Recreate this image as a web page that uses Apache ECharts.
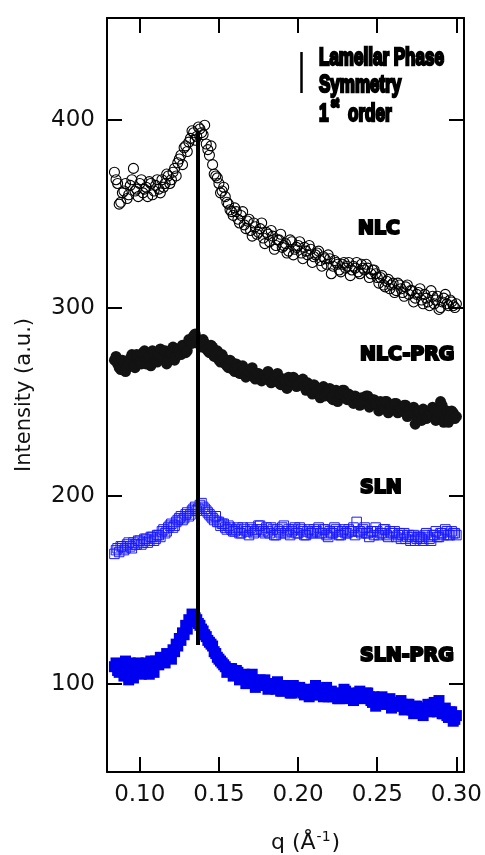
<!DOCTYPE html>
<html>
<head>
<meta charset="utf-8">
<script src="https://cdn.jsdelivr.net/npm/echarts@6/dist/echarts.min.js"></script>
<style>
html,body{margin:0;padding:0;background:#fff;}
#chart{width:485px;height:855px;}
</style>
</head>
<body>
<div id="chart"></div>
<script>
// q values (Å^-1), two interleaved sampling grids
var qA = [0.084,0.086,0.088,0.090,0.092,0.094,0.096,0.098,0.100,0.102,0.104,0.106,0.108,0.110,0.112,0.114,0.116,0.118,0.120,0.122,0.124,0.126,0.128,0.130,0.132,0.134,0.136,0.138,0.140,0.142,0.144,0.146,0.148,0.150,0.152,0.154,0.156,0.158,0.160,0.162,0.164,0.166,0.168,0.170,0.172,0.174,0.176,0.178,0.180,0.182,0.184,0.186,0.188,0.190,0.192,0.194,0.196,0.198,0.200,0.202,0.204,0.206,0.208,0.210,0.212,0.214,0.216,0.218,0.220,0.222,0.224,0.226,0.228,0.230,0.232,0.234,0.236,0.238,0.240,0.242,0.244,0.246,0.248,0.250,0.252,0.254,0.256,0.258,0.260,0.262,0.264,0.266,0.268,0.270,0.272,0.274,0.276,0.278,0.280,0.282,0.284,0.286,0.288,0.290,0.292,0.294,0.296,0.298,0.300];
var qB = [0.085,0.087,0.089,0.091,0.093,0.095,0.097,0.099,0.101,0.103,0.105,0.107,0.109,0.111,0.113,0.115,0.117,0.119,0.121,0.123,0.125,0.127,0.129,0.131,0.133,0.135,0.137,0.139,0.141,0.143,0.145,0.147,0.149,0.151,0.153,0.155,0.157,0.159,0.161,0.163,0.165,0.167,0.169,0.171,0.173,0.175,0.177,0.179,0.181,0.183,0.185,0.187,0.189,0.191,0.193,0.195,0.197,0.199,0.201,0.203,0.205,0.207,0.209,0.211,0.213,0.215,0.217,0.219,0.221,0.223,0.225,0.227,0.229,0.231,0.233,0.235,0.237,0.239,0.241,0.243,0.245,0.247,0.249,0.251,0.253,0.255,0.257,0.259,0.261,0.263,0.265,0.267,0.269,0.271,0.273,0.275,0.277,0.279,0.281,0.283,0.285,0.287,0.289,0.291,0.293,0.295,0.297,0.299];

// NLC (open circles)
var nlcA = [372,366,356,362,358,365,374,363,366,361,364,367,360,365,363,368,366,370,368,374,377,381,385,383,390,393,391,395,392,387,381,376,370,366,362,359,355,351,353,347,349,344,346,341,345,339,342,337,340,335,338,333,336,332,334,330,335,331,333,329,332,328,331,327,329,325,327,323,326,322,324,320,323,321,324,320,321,319,323,320,321,318,320,316,316,312,314,310,313,309,312,308,311,307,309,305,308,304,307,303,309,302,306,300,305,302,304,301,302];
var nlcB = [368,355,361,366,360,368,362,359,368,363,359,366,362,368,361,364,371,366,372,370,379,376,386,388,394,389,396,393,397,384,386,371,369,361,364,356,352,349,351,345,351,342,347,338,343,340,345,334,339,341,331,336,339,333,329,336,328,332,335,326,330,333,324,328,330,322,326,328,318,325,323,319,324,322,317,322,324,318,321,323,316,320,318,313,317,311,315,312,308,313,310,306,312,309,303,307,310,302,305,301,306,304,299,303,307,301,303,300];

// NLC-PRG (filled circles)
var nlcPrgA = [272,270,267,271,268,273,269,275,271,276,270,274,277,272,275,273,277,274,276,272,278,275,279,277,281,285,282,280,283,278,276,279,274,272,275,270,268,271,266,268,265,267,264,266,263,265,262,264,262,263,261,263,260,262,261,263,260,262,259,261,258,260,257,259,256,252,258,255,257,251,256,254,256,252,254,251,253,250,252,251,253,249,251,248,250,247,250,248,246,249,247,245,248,246,244,238,245,240,245,242,244,246,241,250,239,245,242,244,242];
var nlcPrgB = [274,268,272,266,270,275,268,273,270,277,273,269,275,271,278,274,270,276,279,274,277,280,276,283,281,286,283,279,281,277,280,274,277,271,273,269,272,267,270,265,269,263,266,268,262,265,261,264,266,260,263,265,259,262,257,261,263,258,260,262,256,259,254,258,255,257,253,256,252,255,250,254,256,251,253,249,252,248,250,253,247,251,249,245,248,250,244,247,249,244,246,248,242,245,247,241,244,246,241,243,247,240,244,248,242,239,245,241];

// SLN (open squares)
var slnA = [169,172,173,171,174,173,175,174,176,175,177,176,178,177,179,181,180,183,185,184,187,189,188,191,190,193,192,195,194,192,190,188,189,186,185,183,184,182,181,183,180,182,181,183,180,182,184,181,183,180,182,179,181,183,180,182,181,183,180,182,179,181,180,182,181,180,182,179,181,180,182,179,181,180,182,181,179,181,180,183,180,181,179,181,180,182,179,181,180,178,180,179,177,179,178,176,178,177,179,178,176,179,178,180,179,181,179,180,179];
var slnB = [171,170,173,172,175,172,174,176,174,177,175,178,176,179,178,182,181,184,183,186,188,187,190,189,192,194,193,196,193,191,189,187,186,184,185,182,183,181,182,180,183,181,179,182,181,184,182,180,181,183,179,182,180,184,181,179,182,180,183,181,179,182,180,181,183,180,182,178,180,183,181,179,182,180,181,183,186,181,182,180,178,181,183,179,180,182,178,180,181,179,177,180,178,176,179,177,178,176,180,177,179,181,178,180,182,179,181,180];

// SLN-PRG (filled squares)
var slnPrgA = [109,107,110,104,108,111,103,109,110,108,111,105,109,112,110,113,111,115,113,117,120,123,126,129,133,136,134,131,128,125,122,120,116,113,111,109,107,108,105,106,103,105,101,104,102,100,102,99,100,98,100,97,99,96,98,97,95,98,96,97,94,96,95,97,94,96,93,98,95,93,95,92,94,96,92,94,93,95,93,94,95,91,93,90,92,91,89,92,90,88,90,89,87,89,86,88,85,87,86,89,87,90,85,86,84,83,85,80,83];
var slnPrgB = [111,106,108,112,102,110,107,111,105,110,108,112,106,111,114,112,116,114,118,121,124,127,131,134,137,135,132,129,126,123,121,117,114,112,110,106,108,104,107,102,104,100,103,105,98,101,99,102,97,100,98,101,96,99,97,95,99,96,98,95,97,93,96,99,94,97,95,93,96,94,92,95,97,93,95,91,94,96,92,95,93,90,88,91,93,89,91,87,90,88,91,86,89,87,84,88,86,83,87,85,89,86,91,84,87,82,85,81];

var xTicks = [0.10, 0.15, 0.20, 0.25, 0.30];
var yTicks = [100, 200, 300, 400];
var xRange = [0.0793, 0.3048];
var yRange = [53, 454];
var peakQ = [0.1368];
var peakSpan = [120.6, 393.4];
var seriesNames = ['NLC', 'NLC-PRG', 'SLN', 'SLN-PRG'];

function pairs(a, b) {
  var out = [];
  for (var i = 0; i < qA.length; i++) {
    out.push([qA[i], a[i]]);
    if (i < qB.length) out.push([qB[i], b[i]]);
  }
  return out;
}

var chart = echarts.init(document.getElementById('chart'), null, {renderer: 'canvas'});

var axisLineStyle = {color: '#000', width: 2};
function xAxisDef(pos, showLabel) {
  return {
    type: 'value', position: pos, min: xRange[0], max: xRange[1],
    axisLine: {show: true, onZero: false, lineStyle: axisLineStyle},
    axisTick: {show: true, inside: true, length: 15, lineStyle: {color: '#000', width: 2}, customValues: xTicks},
    axisLabel: {show: showLabel, customValues: xTicks, margin: 12, fontSize: 23, fontFamily: 'DejaVu Sans', color: '#111',
      formatter: function (v) { return v.toFixed(2); }},
    splitLine: {show: false}
  };
}
function yAxisDef(pos, showLabel) {
  var a = {
    type: 'value', position: pos, min: yRange[0], max: yRange[1],
    axisLine: {show: true, onZero: false, lineStyle: axisLineStyle},
    axisTick: {show: true, inside: true, length: 15, lineStyle: {color: '#000', width: 2}, customValues: yTicks},
    axisLabel: {show: showLabel, customValues: yTicks, margin: 12, fontSize: 23, fontFamily: 'DejaVu Sans', color: '#111'},
    splitLine: {show: false}
  };
  if (showLabel) {
    a.name = 'Intensity (a.u.)';
    a.nameLocation = 'middle';
    a.nameGap = 72;
    a.nameTextStyle = {fontSize: 21, fontFamily: 'DejaVu Sans', color: '#111'};
  }
  return a;
}

function boldLabel(text, x, y) {
  return {
    type: 'text', x: x, y: y, scaleX: 0.95, z: 100,
    style: {text: text, font: 'bold 20px "DejaVu Sans"', fill: '#000', stroke: '#000', lineWidth: 2.2, verticalAlign: 'middle', align: 'left'}
  };
}
function annoText(text, x, y, size) {
  return {
    type: 'text', x: x, y: y, scaleX: 0.74, z: 100,
    style: {text: text, font: 'bold ' + size + 'px "Liberation Sans"', fill: '#000', stroke: '#000', lineWidth: 2.4, verticalAlign: 'middle', align: 'left'}
  };
}

var option = {
  animation: false,
  backgroundColor: '#fff',
  grid: {left: 107, right: 18, top: 18, bottom: 83, containLabel: false},
  xAxis: [xAxisDef('bottom', true), xAxisDef('top', false)],
  yAxis: [yAxisDef('left', true), yAxisDef('right', false)],
  series: [
    {name: seriesNames[0], type: 'scatter', data: pairs(nlcA, nlcB), symbol: 'circle', symbolSize: 10,
      itemStyle: {color: 'rgba(0,0,0,0)', borderColor: '#000', borderWidth: 1.1, opacity: 1}},
    {name: seriesNames[1], type: 'scatter', data: pairs(nlcPrgA, nlcPrgB), symbol: 'circle', symbolSize: 11,
      itemStyle: {color: '#131313', opacity: 1}},
    {name: seriesNames[2], type: 'scatter', data: pairs(slnA, slnB), symbol: 'rect', symbolSize: 9.5,
      itemStyle: {color: 'rgba(0,0,0,0)', borderColor: '#1a1aff', borderWidth: 1, opacity: 1}},
    {name: seriesNames[3], type: 'scatter', data: pairs(slnPrgA, slnPrgB), symbol: 'rect', symbolSize: 11,
      itemStyle: {color: '#0000f0', opacity: 1}},
    {name: 'peak', type: 'line', data: [], z: 10,
      markLine: {silent: true, symbol: ['none', 'none'], label: {show: false}, animation: false,
        lineStyle: {color: '#000', width: 4, type: 'solid'},
        data: [[{coord: [peakQ[0], peakSpan[0]]}, {coord: [peakQ[0], peakSpan[1]]}]]}}
  ],
  graphic: [
    {type: 'line', z: 100, shape: {x1: 301.5, y1: 52, x2: 301.5, y2: 93}, style: {stroke: '#000', lineWidth: 2.5}},
    annoText('Lamellar Phase', 319, 58.5, 23),
    annoText('Symmetry', 319, 86, 23),
    annoText('1', 319, 114.5, 23),
    annoText('st', 331, 104, 12),
    annoText('order', 348, 114.5, 23),
    boldLabel(seriesNames[0], 358, 229),
    boldLabel(seriesNames[1], 360, 355),
    boldLabel(seriesNames[2], 360, 488),
    boldLabel(seriesNames[3], 360, 656),
    {type: 'text', left: 271, top: 830, z: 100,
      style: {text: '{a|q (Å}{s|-1}{a|)}', fill: '#111',
        rich: {a: {fontSize: 22, fontFamily: 'DejaVu Sans', color: '#111'},
               s: {fontSize: 14, fontFamily: 'DejaVu Sans', color: '#111', padding: [0, 1, 12, 1]}}}}
  ]
};
chart.setOption(option);
</script>
</body>
</html>
